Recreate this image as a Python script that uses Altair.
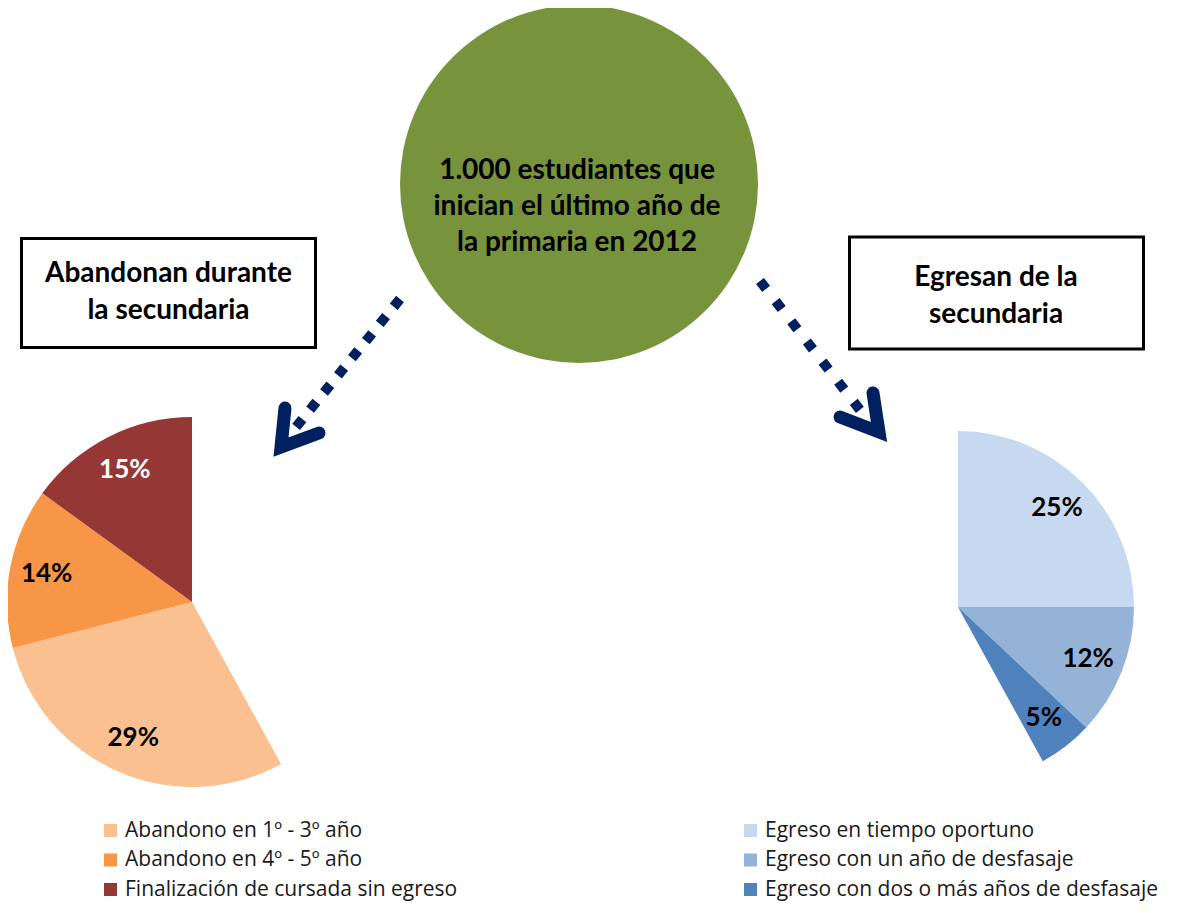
import math
import altair as alt
import pandas as pd

# ---------------- data ----------------
left_cats = ["Abandono en 1º - 3º año", "Abandono en 4º - 5º año", "Finalización de cursada sin egreso"]
left_vals = [29, 14, 15]
left_order = [3, 2, 1]          # drawn from 12 o'clock, counter-clockwise
left_colors = ["#FAC090", "#F79646", "#953735"]

right_cats = ["Egreso en tiempo oportuno", "Egreso con un año de desfasaje",
              "Egreso con dos o más años de desfasaje"]
right_vals = [25, 12, 5]
right_order = [1, 2, 3]         # drawn from 12 o'clock, clockwise
right_colors = ["#C6D9F1", "#95B3D7", "#4F81BD"]

center_text = ["1.000 estudiantes que", "inician el último año de", "la primaria en 2012"]
left_box_text = ["Abandonan durante", "la secundaria"]
right_box_text = ["Egresan de la", "secundaria"]

NAVY = "#002060"
GREEN = "#77933C"
FONT = "Lato"
LEG_FONT = "Open Sans"
TAU = 2 * math.pi

left_df = pd.DataFrame({"cat": left_cats, "value": left_vals, "ord": left_order,
                        "label": [f"{v}%" for v in left_vals]})
right_df = pd.DataFrame({"cat": right_cats, "value": right_vals, "ord": right_order,
                         "label": [f"{v}%" for v in right_vals]})
one = pd.DataFrame({"a": [1]})


def legend(x):
    return alt.Legend(orient="none", legendX=x, legendY=812, title=None,
                      symbolType="square", symbolSize=169, symbolStrokeWidth=0,
                      labelFont=LEG_FONT, labelFontSize=21, labelColor="#1a1a1a",
                      rowPadding=7.5, labelOffset=4, padding=0, labelLimit=600)


# ---------------- pies ----------------
def pie(df, cats, colors, cx, cy, r, lr, theta_range, legend_x, white_cat):
    base = alt.Chart(df)
    theta = alt.Theta("value:Q", stack=True,
                      scale=alt.Scale(domain=[0, 100], range=theta_range))
    arc = base.mark_arc(radius=r).encode(
        theta=theta,
        order=alt.Order("ord:Q"),
        color=alt.Color("cat:N", scale=alt.Scale(domain=cats, range=colors),
                        legend=legend(legend_x)),
        x=alt.value(cx), y=alt.value(cy),
    )
    txt = base.mark_text(radius=lr, font=FONT, fontSize=26, fontWeight="bold",
                         align="center", baseline="middle").encode(
        theta=theta,
        order=alt.Order("ord:Q"),
        text="label:N",
        color=alt.condition(alt.datum.cat == white_cat, alt.value("white"), alt.value("black")),
        x=alt.value(cx), y=alt.value(cy),
    )
    return alt.layer(arc, txt)


left_pie = pie(left_df, left_cats, left_colors, 184, 594, 185, 148, [TAU, 0], 92,
               "Finalización de cursada sin egreso")
right_pie = pie(right_df, right_cats, right_colors, 950, 599, 176, 140, [0, TAU], 732,
                "__none__")

# ---------------- decorations ----------------
circle = alt.Chart(one).mark_point(shape="circle", filled=True, opacity=1,
                                   size=358 ** 2, color=GREEN).encode(
    x=alt.value(571), y=alt.value(176))

circle_txt = alt.Chart(pd.DataFrame({"t": [center_text]})).mark_text(
    font=FONT, fontSize=28, fontWeight="bold", lineHeight=36, color="black",
    align="center", baseline="middle").encode(
    text="t", x=alt.value(569), y=alt.value(163))


def box(x, x2, y, y2):
    return alt.Chart(one).mark_rect(fill="white", stroke="black", strokeWidth=3).encode(
        x=alt.value(x), x2=alt.value(x2), y=alt.value(y), y2=alt.value(y2))


def box_text(lines, x, y):
    return alt.Chart(pd.DataFrame({"t": [lines]})).mark_text(
        font=FONT, fontSize=28, fontWeight="bold", lineHeight=37, color="black",
        align="center", baseline="middle").encode(
        text="t", x=alt.value(x), y=alt.value(y))


left_box = box(13.5, 307.5, 230.5, 339.5)
right_box = box(841.5, 1135.5, 229, 341)
left_btxt = box_text(left_box_text, 160.5, 266)
right_btxt = box_text(right_box_text, 988, 270)


def dots(x, y, x2, y2, gap):
    return alt.Chart(one).mark_rule(color=NAVY, strokeWidth=10, strokeCap="butt",
                                    strokeDash=[10, gap]).encode(
        x=alt.value(x), y=alt.value(y), x2=alt.value(x2), y2=alt.value(y2))


def chevron(pts):
    df = pd.DataFrame({"px": [p[0] for p in pts], "py": [p[1] for p in pts],
                       "i": list(range(len(pts)))})
    return alt.Chart(df).mark_line(color=NAVY, strokeWidth=13, strokeCap="round",
                                   strokeJoin="miter").encode(
        x=alt.X("px:Q", scale=None), y=alt.Y("py:Q", scale=None), order="i:Q")


left_dots = dots(392, 291, 288, 419, 12.1)
right_dots = dots(752, 273, 852, 402, 15.5)
left_chev = chevron([(277, 400), (273, 439), (311, 425)])
right_chev = chevron([(865, 385), (871, 424), (832, 409)])

chart = alt.layer(
    circle, circle_txt, left_box, right_box, left_btxt, right_btxt,
    left_dots, right_dots, left_chev, right_chev, left_pie, right_pie,
).resolve_scale(theta="independent", color="independent").properties(
    width=1160, height=895, padding=0, autosize=alt.AutoSizeParams(type="none"),
    background="white",
).configure_view(stroke=None)

chart.save("out.html", embed_options={"renderer": "svg", "actions": False})
